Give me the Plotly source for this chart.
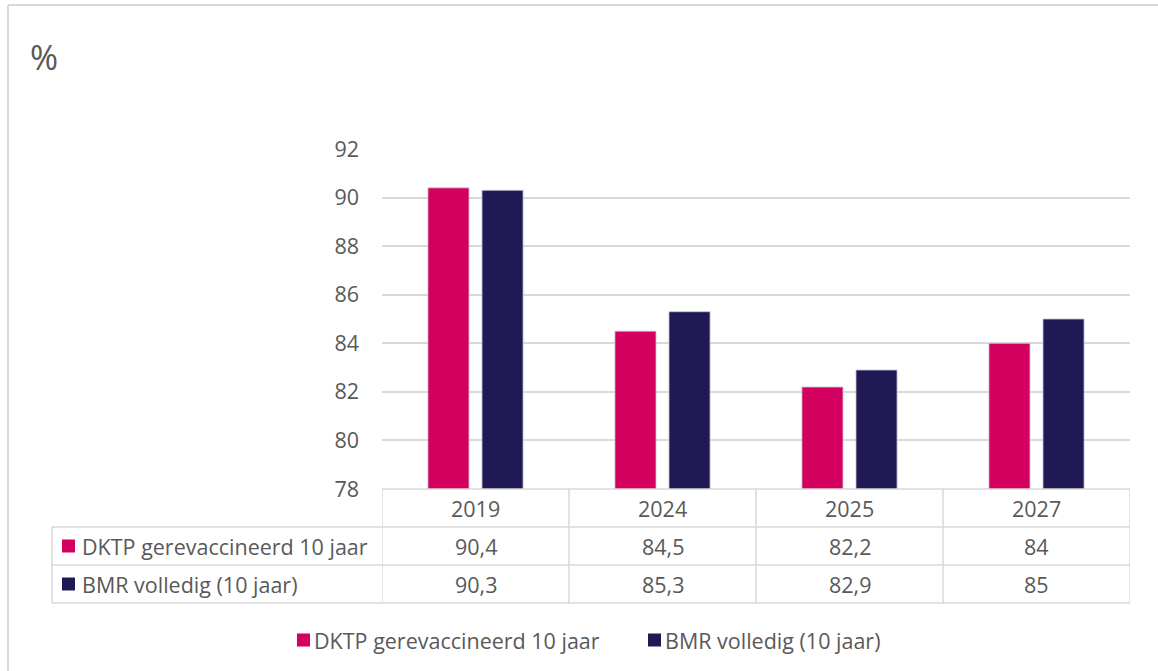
import plotly.graph_objects as go

# ---- data ----
years = ["2019", "2024", "2025", "2027"]
series_names = ["DKTP gerevaccineerd 10 jaar", "BMR volledig (10 jaar)"]
dktp = [90.4, 84.5, 82.2, 84]
bmr = [90.3, 85.3, 82.9, 85]
y_ticks = [78, 80, 82, 84, 86, 88, 90, 92]
unit_label = "%"

# ---- style ----
W, H = 1158, 671
PINK = "#D3005F"
NAVY = "#1F1A55"
TXT = "#595959"
GRID = "#D9D9D9"
FONT = "Open Sans"
FS = 21.5

def px(x):
    return x / W

def py(y):
    return 1 - y / H

def fmt(v):
    return f"{v:g}".replace(".", ",")

plot_l, plot_r, plot_t, plot_b = 382, 1130, 149, 489
row_edges = [489, 527, 565, 603]
table_left = 52
legend_y = 640
legend_sq_x = [297, 648]

fig = go.Figure()
colors = [PINK, NAVY]
for name, vals, col in zip(series_names, [dktp, bmr], colors):
    fig.add_trace(go.Bar(
        x=list(range(len(years))), y=vals, name=name,
        marker=dict(color=col, line=dict(color="rgba(200,200,215,0.8)", width=1)),
        hoverinfo="skip", showlegend=False,
    ))

shapes = []
annotations = []

# outer frame
shapes.append(dict(type="line", xref="paper", yref="paper", x0=px(8), x1=1, y0=py(5), y1=py(5),
                   line=dict(color=GRID, width=2)))
shapes.append(dict(type="line", xref="paper", yref="paper", x0=px(8), x1=px(8), y0=py(5), y1=0,
                   line=dict(color=GRID, width=2)))

# table horizontal lines
shapes.append(dict(type="line", xref="paper", yref="paper", x0=px(plot_l), x1=px(plot_r),
                   y0=py(row_edges[0]), y1=py(row_edges[0]), line=dict(color=GRID, width=1.5)))
for ry in row_edges[1:]:
    shapes.append(dict(type="line", xref="paper", yref="paper", x0=px(table_left), x1=px(plot_r),
                       y0=py(ry), y1=py(ry), line=dict(color=GRID, width=1.5)))
# table vertical lines
shapes.append(dict(type="line", xref="paper", yref="paper", x0=px(table_left), x1=px(table_left),
                   y0=py(row_edges[1]), y1=py(row_edges[3]), line=dict(color=GRID, width=1.5)))
for i in range(len(years) + 1):
    shapes.append(dict(type="line", xref="x", yref="paper", x0=i - 0.5, x1=i - 0.5,
                       y0=py(row_edges[0]), y1=py(row_edges[3]), line=dict(color=GRID, width=1.5)))

# header years
for i, yr in enumerate(years):
    annotations.append(dict(x=i, y=py((row_edges[0] + row_edges[1]) / 2), xref="x", yref="paper",
                            text=yr, showarrow=False, font=dict(family=FONT, size=FS, color=TXT),
                            xanchor="center", yanchor="middle"))
# data rows
for r, (name, vals, col) in enumerate(zip(series_names, [dktp, bmr], colors)):
    yc = (row_edges[r + 1] + row_edges[r + 2]) / 2
    shapes.append(dict(type="rect", xref="paper", yref="paper", x0=px(62), x1=px(75),
                       y0=py(yc - 6.5), y1=py(yc + 6.5), fillcolor=col, line=dict(width=0)))
    annotations.append(dict(x=px(80), y=py(yc), xref="paper", yref="paper", text=name,
                            showarrow=False, font=dict(family=FONT, size=FS, color=TXT),
                            xanchor="left", yanchor="middle"))
    for i, v in enumerate(vals):
        annotations.append(dict(x=i, y=py(yc), xref="x", yref="paper", text=fmt(v),
                                showarrow=False, font=dict(family=FONT, size=FS, color=TXT),
                                xanchor="center", yanchor="middle"))

# legend (drawn as swatches + labels)
for name, col, sx in zip(series_names, colors, legend_sq_x):
    shapes.append(dict(type="rect", xref="paper", yref="paper", x0=px(sx), x1=px(sx + 13),
                       y0=py(legend_y - 6.5), y1=py(legend_y + 6.5), fillcolor=col, line=dict(width=0)))
    annotations.append(dict(x=px(sx + 15), y=py(legend_y), xref="paper", yref="paper", text=name,
                            showarrow=False, font=dict(family=FONT, size=FS, color=TXT),
                            xanchor="left", yanchor="middle"))

# unit label
annotations.append(dict(x=px(44), y=py(57), xref="paper", yref="paper", text=unit_label,
                        showarrow=False, font=dict(family=FONT, size=34, color=TXT),
                        xanchor="center", yanchor="middle"))

fig.update_layout(
    width=W, height=H,
    margin=dict(l=0, r=0, t=0, b=0, pad=0, autoexpand=False),
    paper_bgcolor="white", plot_bgcolor="white",
    barmode="group", bargap=0.422, bargroupgap=0.24,
    font=dict(family=FONT, size=FS, color=TXT),
    xaxis=dict(domain=[px(plot_l), px(plot_r)], range=[-0.5, len(years) - 0.5], automargin=False,
               showticklabels=False, showgrid=False, zeroline=False, showline=False, fixedrange=True),
    yaxis=dict(domain=[py(plot_b), py(plot_t)], range=[y_ticks[0], y_ticks[-1]], automargin=False,
               tickvals=y_ticks, ticktext=[str(t) for t in y_ticks],
               showgrid=True, gridcolor=GRID, gridwidth=1.5, zeroline=False, showline=False,
               ticks="", ticklabelstandoff=22, tickfont=dict(family=FONT, size=FS, color=TXT)),
    shapes=shapes, annotations=annotations,
    showlegend=False,
)

post = (
    "document.documentElement.style.margin='0';"
    "document.body.style.margin='0';"
    "document.body.style.overflow='hidden';"
)
fig.write_html("out.html", config={"displayModeBar": False}, post_script=post)
